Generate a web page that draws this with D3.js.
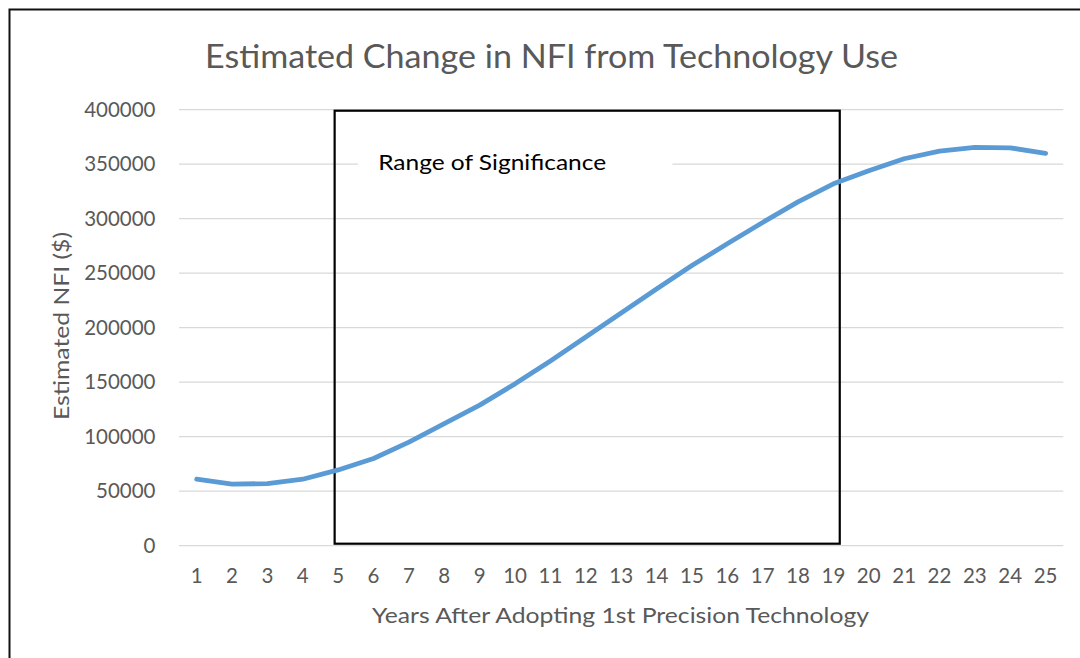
<!DOCTYPE html>
<html>
<head>
<meta charset="utf-8">
<script src="https://cdn.jsdelivr.net/npm/d3@7"></script>
<style>
  html, body { margin: 0; padding: 0; background: #fff; }
  svg { display: block; }
</style>
</head>
<body>
<script>
// ---- data ----
const years = d3.range(1, 26).map(String);
const nfi = [61000, 56500, 57000, 61000, 69500, 80000, 95000, 112000, 129000, 148500,
             169500, 191500, 213500, 235500, 257000, 277000, 296500, 315500, 332000, 344000,
             355000, 362000, 365500, 365000, 360000];
const yTicks = [0, 50000, 100000, 150000, 200000, 250000, 300000, 350000, 400000];
const titleText = "Estimated Change in NFI from Technology Use";
const xTitle = "Years After Adopting 1st Precision Technology";
const yTitle = "Estimated NFI ($)";
const rangeLabel = "Range of Significance";
const rangeStart = 4.9;   // in year units
const rangeEnd = 19.18;

// ---- layout ----
const W = 1080, H = 658;
const plot = { left: 179, right: 1063.3, top: 109.7, bottom: 545.7 };

const svg = d3.select("body").append("svg").attr("width", W).attr("height", H);
svg.append("rect").attr("width", W).attr("height", H).attr("fill", "#fff");

// outer chart border (extends past the right/bottom of the picture)
svg.append("rect")
  .attr("x", 9.5).attr("y", 9.5).attr("width", W + 20).attr("height", H + 20)
  .attr("fill", "none").attr("stroke", "#111").attr("stroke-width", 2);

const x = d3.scaleBand().domain(years).range([plot.left, plot.right]);
const xLin = d3.scaleLinear().domain([1, 25])
  .range([x("1") + x.bandwidth() / 2, x("25") + x.bandwidth() / 2]);
const y = d3.scaleLinear().domain([0, 400000]).range([plot.bottom, plot.top]);

const font = "Lato, 'Open Sans', sans-serif";
const gray = "#595959";

// gridlines
svg.append("g").selectAll("line").data(yTicks).join("line")
  .attr("x1", plot.left).attr("x2", plot.right)
  .attr("y1", d => y(d)).attr("y2", d => y(d))
  .attr("stroke", "#d9d9d9").attr("stroke-width", 1.3);

// y axis labels
const yAxis = d3.axisLeft(y).tickValues(yTicks).tickSize(0).tickPadding(0).tickFormat(d3.format("d"));
const gy = svg.append("g").attr("transform", `translate(${155.5},0)`).call(yAxis);
gy.select(".domain").remove();
gy.selectAll("text").attr("font-family", font).attr("font-size", 20.5).attr("fill", gray);

// x axis labels
const xAxis = d3.axisBottom(x).tickSize(0).tickPadding(0);
const gx = svg.append("g").attr("transform", `translate(0,${568})`).call(xAxis);
gx.select(".domain").remove();
gx.selectAll("text").attr("font-family", font).attr("font-size", 20.5).attr("fill", gray);

// range of significance box
const rx1 = xLin(rangeStart), rx2 = xLin(rangeEnd);
svg.append("rect")
  .attr("x", rx1).attr("y", y(400000) + 1)
  .attr("width", rx2 - rx1).attr("height", y(0) - y(400000) - 3)
  .attr("fill", "none").attr("stroke", "#000").attr("stroke-width", 2.2);

// label with white background
svg.append("rect")
  .attr("x", xLin(5.56)).attr("y", y(350000) - 20)
  .attr("width", xLin(14.45) - xLin(5.56)).attr("height", 38)
  .attr("fill", "#fff");
svg.append("text")
  .attr("x", xLin(6.13)).attr("y", y(350000) + 6)
  .attr("font-family", font).attr("font-size", 21).attr("fill", "#000")
  .attr("textLength", 228).attr("lengthAdjust", "spacingAndGlyphs")
  .text(rangeLabel);

// line
const line = d3.line()
  .x((d, i) => x(years[i]) + x.bandwidth() / 2)
  .y(d => y(d));
svg.append("path").datum(nfi)
  .attr("d", line)
  .attr("fill", "none").attr("stroke", "#5b9bd5").attr("stroke-width", 4.8)
  .attr("stroke-linecap", "round").attr("stroke-linejoin", "round");

// title
svg.append("text")
  .attr("x", 551.5).attr("y", 68).attr("text-anchor", "middle")
  .attr("font-family", font).attr("font-weight", 400).attr("font-size", 32).attr("fill", gray)
  .attr("textLength", 693).attr("lengthAdjust", "spacingAndGlyphs")
  .text(titleText);

// x title
svg.append("text")
  .attr("x", 620.5).attr("y", 623).attr("text-anchor", "middle")
  .attr("font-family", font).attr("font-size", 22).attr("fill", gray)
  .attr("textLength", 497).attr("lengthAdjust", "spacingAndGlyphs")
  .text(xTitle);

// y title
svg.append("text")
  .attr("transform", `translate(${69},${326}) rotate(-90)`)
  .attr("text-anchor", "middle")
  .attr("font-family", font).attr("font-size", 21).attr("fill", gray)
  .attr("textLength", 188).attr("lengthAdjust", "spacingAndGlyphs")
  .text(yTitle);
</script>
</body>
</html>
